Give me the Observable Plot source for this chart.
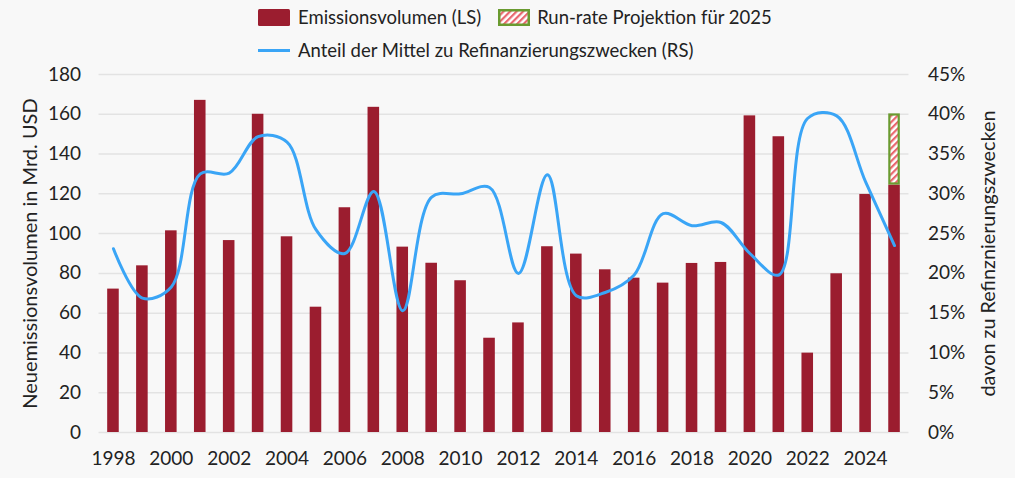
<!DOCTYPE html>
<html><head><meta charset="utf-8">
<script src="https://cdn.jsdelivr.net/npm/d3@7"></script>
<script src="https://cdn.jsdelivr.net/npm/@observablehq/plot@0.6"></script>
<style>
body{margin:0;background:#f8f8f8;font-family:Lato,"Open Sans",sans-serif;color:#222}
#legend{position:relative;height:62px;width:1015px;font-size:18.5px}
.row{position:absolute;left:258px;display:flex;align-items:center;white-space:nowrap;height:24px}
.sw{width:32px;height:17px;margin-right:8px;flex:none}
</style></head><body>
<div id="legend">
  <div class="row" style="top:5px">
    <svg class="sw" viewBox="0 0 32 17"><rect x="0" y="0" width="32" height="17" rx="1.5" fill="#9b1d2f"/></svg>
    <span>Emissionsvolumen (LS)</span>
    <svg class="sw" viewBox="0 0 32 17" style="margin-left:17px;margin-right:7px">
      <defs><pattern id="hatchL" patternUnits="userSpaceOnUse" width="4.6" height="4.6" patternTransform="rotate(45)"><rect width="4.6" height="4.6" fill="#fff"/><rect width="2.2" height="4.6" fill="#e9666f"/></pattern></defs>
      <rect x="1.25" y="1.25" width="29.5" height="14.5" fill="url(#hatchL)" stroke="#6a9b30" stroke-width="2.5"/>
    </svg>
    <span>Run-rate Projektion für 2025</span>
  </div>
  <div class="row" style="top:38px">
    <svg class="sw" viewBox="0 0 32 17"><line x1="0" y1="8.5" x2="32" y2="8.5" stroke="#3aa5f6" stroke-width="3"/></svg>
    <span>Anteil der Mittel zu Refinanzierungszwecken (RS)</span>
  </div>
</div>
<div id="chart"></div>
<script>
const years = [1998,1999,2000,2001,2002,2003,2004,2005,2006,2007,2008,2009,2010,2011,2012,2013,2014,2015,2016,2017,2018,2019,2020,2021,2022,2023,2024,2025];
const volume = [72.1,83.8,101.4,167,96.5,160,98.4,63.0,113.0,163.5,93.2,85.1,76.3,47.4,55.1,93.4,89.7,81.8,77.6,75.1,85.0,85.5,159.2,148.7,39.9,79.8,119.7,124.4];
const refiShare = [23.1,16.9,18.3,32.5,32.6,37.2,36.5,25.5,22.5,30.3,15.3,29.6,30.0,30.8,20.0,32.4,17.2,17.6,19.8,27.5,26.0,26.4,22.5,19.8,39.5,39.8,31.5,23.5];
const projYear = 2025;
const projTop = 160.2;
const leftTicks = [0,20,40,60,80,100,120,140,160,180];
const xTicks = [1998,2000,2002,2004,2006,2008,2010,2012,2014,2016,2018,2020,2022,2024];
const leftLabel = "Neuemissionsvolumen in Mrd. USD";
const rightLabel = "davon zu Refinznierungszwecken";
const pctFactor = 4; // 45% on right axis == 180 on left axis

const rows = years.map((year, i) => ({year, volume: volume[i], pct: refiShare[i]}));
const proj = [{year: projYear, base: volume[years.indexOf(projYear)], top: projTop}];

const chart = Plot.plot({
  width: 1015,
  height: 416,
  marginLeft: 98.5,
  marginRight: 106.5,
  marginTop: 12,
  marginBottom: 46,
  style: {background: "transparent", fontFamily: "Lato, 'Open Sans', sans-serif", fontSize: "19px", color: "#222", overflow: "visible"},
  x: {type: "band", domain: years, paddingInner: 0.6, paddingOuter: 0.3, round: false},
  y: {domain: [0, 180]},
  marks: [
    Plot.gridY(leftTicks, {stroke: "#e3e3e3", strokeOpacity: 1, strokeWidth: 1.5}),
    Plot.barY(rows, {x: "year", y: "volume", fill: "#9b1d2f"}),
    Plot.barY(proj, {x: "year", y1: "base", y2: "top", fill: "url(#hatch)", stroke: "#6a9b30", strokeWidth: 2.2, inset: 1.1}),
    Plot.line(rows, {x: "year", y: d => d.pct * pctFactor, stroke: "#3aa5f6", strokeWidth: 3, curve: "catmull-rom"}),
    Plot.axisX({ticks: xTicks, tickFormat: d => String(d), tickSize: 0, tickPadding: 19, label: null}),
    Plot.axisY({ticks: leftTicks, tickSize: 0, tickPadding: 18, label: null}),
    Plot.axisY({anchor: "right", ticks: leftTicks, tickFormat: d => `${d / pctFactor}%`, tickSize: 0, tickPadding: 19, label: null}),
    Plot.text([leftLabel], {frameAnchor: "left", dx: -68, rotate: -90, textAnchor: "middle", fontSize: 20, fill: "#222"}),
    Plot.text([rightLabel], {frameAnchor: "right", dx: 80, rotate: -90, textAnchor: "middle", fontSize: 19.8, fill: "#222"})
  ]
});

const defs = d3.select(chart).insert("defs", ":first-child");
const pat = defs.append("pattern").attr("id", "hatch").attr("patternUnits", "userSpaceOnUse")
  .attr("width", 4.6).attr("height", 4.6).attr("patternTransform", "rotate(45)");
pat.append("rect").attr("width", 4.6).attr("height", 4.6).attr("fill", "#fff");
pat.append("rect").attr("width", 2.2).attr("height", 4.6).attr("fill", "#e9666f");

document.getElementById("chart").appendChild(chart);
</script>
</body></html>
